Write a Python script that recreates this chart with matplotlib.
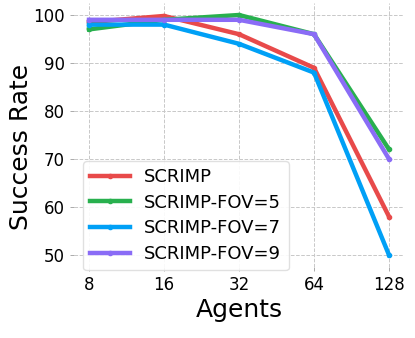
import matplotlib
matplotlib.use("Agg")
import matplotlib.pyplot as plt

agents = ["8", "16", "32", "64", "128"]
scrimp = [98.5, 99.8, 96, 89, 58]
fov5 = [97, 99, 100, 96, 72]
fov7 = [98, 98, 94, 88, 50]
fov9 = [99, 99, 99, 96, 70]
labels = ["SCRIMP", "SCRIMP-FOV=5", "SCRIMP-FOV=7", "SCRIMP-FOV=9"]
colors = ["#e84a4a", "#28b04e", "#00a0f6", "#8a6cf6"]

fig = plt.figure(figsize=(4.15, 3.38), dpi=100)
ax = fig.add_axes([74/415, 1-267/338, 330/415, 264/338])
x = list(range(len(agents)))
for ys, lab, c in zip([scrimp, fov5, fov7, fov9], labels, colors):
    ax.plot(x, ys, color=c, lw=3.2, marker='o', ms=3, label=lab)

ax.set_xticks(x)
ax.set_xticklabels(agents)
ax.set_yticks([50, 60, 70, 80, 90, 100])
ax.set_xlim(-0.2, 4.2)
ax.set_ylim(47.5, 102.5)
for s in ax.spines.values():
    s.set_visible(False)
ax.grid(True, ls='--', color='#c8c8c8', lw=0.7)
ax.tick_params(axis='both', labelsize=12, color='#aaaaaa', length=3, width=0.7)
ax.set_xlabel("Agents", fontsize=18, labelpad=3)
ax.set_ylabel("Success Rate", fontsize=18)
ax.yaxis.set_label_coords(-0.125, 0.455)
leg = ax.legend(loc='lower left', fontsize=13, handlelength=2.2, handletextpad=0.8,
                labelspacing=0.42, framealpha=0.9, borderpad=0.4,
                borderaxespad=0.0, bbox_to_anchor=(0.027, -0.012))
leg.get_frame().set_edgecolor('#dddddd')
fig.savefig("out.png", dpi=100)
